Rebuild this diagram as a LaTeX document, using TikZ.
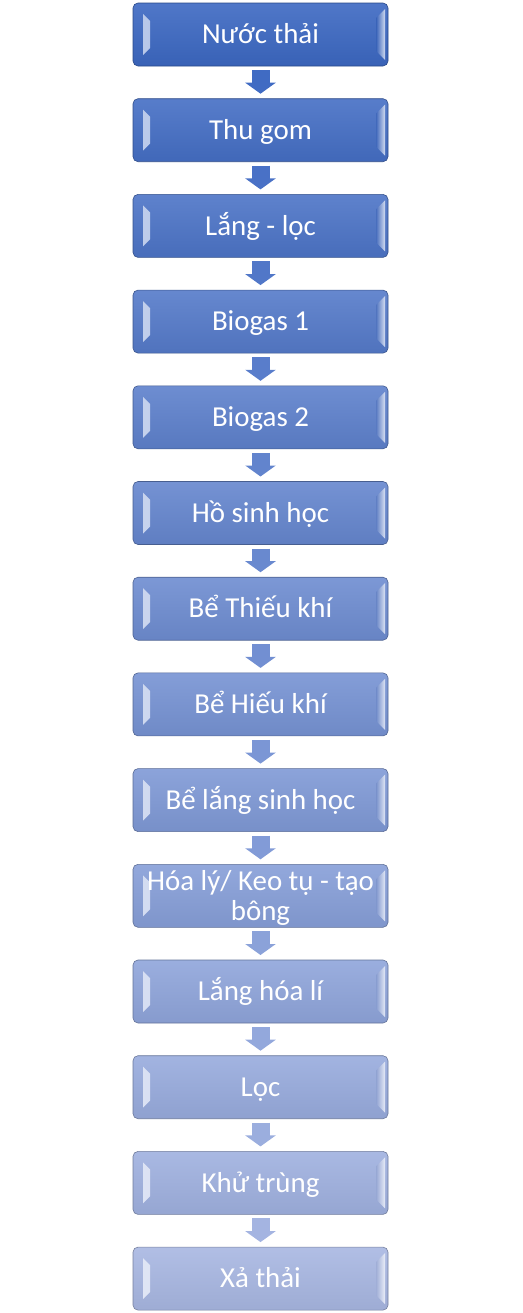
\documentclass[tikz,border=0pt]{standalone}
\usepackage{fontspec}
\setmainfont{Carlito}
\usetikzlibrary{arrows.meta,positioning}
\definecolor{boxtop}{RGB}{60, 104, 194}
\definecolor{boxlow}{RGB}{168, 183, 226}

\tikzset{
  stage/.style={/utils/exec={\colorlet{stagecol}{boxlow!#1!boxtop}},
    rectangle, rounded corners=5bp, minimum width=255bp, minimum height=63bp,
    inner sep=0pt, outer sep=0pt, align=center, text=white, text height=18.5bp, text depth=0bp,
    font=\fontsize{29}{30}\selectfont,
    top color=stagecol!90!white, bottom color=stagecol!94!black,
    draw=stagecol!70!black, line width=.6bp,
    path picture={
      \shade[sharp corners, left color=stagecol!35!white, right color=stagecol!65!white]
        ([shift={(10bp,-11bp)}]path picture bounding box.north west) -- ([shift={(17bp,-18bp)}]path picture bounding box.north west)
        -- ([shift={(17bp,18bp)}]path picture bounding box.south west) -- ([shift={(10bp,11bp)}]path picture bounding box.south west) -- cycle;
      \shade[sharp corners, left color=stagecol!95!black, right color=stagecol!25!white]
        ([shift={(-3bp,-6bp)}]path picture bounding box.north east) -- ([shift={(-12bp,-15bp)}]path picture bounding box.north east)
        -- ([shift={(-12bp,15bp)}]path picture bounding box.south east) -- ([shift={(-3bp,6bp)}]path picture bounding box.south east) -- cycle;
    }},
  flow/.style={draw=boxlow!#1!boxtop, line width=18bp, shorten <=4bp, shorten >=5bp,
    -{Triangle[length=11bp, width=30bp]}}
}

\begin{document}
\begin{tikzpicture}[node distance=32.7bp]
        \useasboundingbox (0,0) rectangle (523bp,-1313bp);
        % stages
        \node[stage=0]   (b1) at (260.5bp,-34.5bp) {Nước thải};
        \node[stage=8]   (b2)  [below=of b1]  {Thu gom};
        \node[stage=15]  (b3)  [below=of b2]  {Lắng - lọc};
        \node[stage=23]  (b4)  [below=of b3]  {Biogas 1};
        \node[stage=31]  (b5)  [below=of b4]  {Biogas 2};
        \node[stage=38]  (b6)  [below=of b5]  {Hồ sinh học};
        \node[stage=46]  (b7)  [below=of b6]  {Bể Thiếu khí};
        \node[stage=54]  (b8)  [below=of b7]  {Bể Hiếu khí};
        \node[stage=62]  (b9)  [below=of b8]  {Bể lắng sinh học};
        \node[stage=69, text height=48.5bp] (b10) [below=of b9] {Hóa lý/ Keo tụ - tạo\\bông};
        \node[stage=77]  (b11) [below=of b10] {Lắng hóa lí};
        \node[stage=85]  (b12) [below=of b11] {Lọc};
        \node[stage=92]  (b13) [below=of b12] {Khử trùng};
        \node[stage=100] (b14) [below=of b13] {Xả thải};
        % arrows
        \draw[flow=4]  (b1)  -- (b2);
        \draw[flow=12] (b2)  -- (b3);
        \draw[flow=19] (b3)  -- (b4);
        \draw[flow=27] (b4)  -- (b5);
        \draw[flow=35] (b5)  -- (b6);
        \draw[flow=42] (b6)  -- (b7);
        \draw[flow=50] (b7)  -- (b8);
        \draw[flow=58] (b8)  -- (b9);
        \draw[flow=65] (b9)  -- (b10);
        \draw[flow=73] (b10) -- (b11);
        \draw[flow=81] (b11) -- (b12);
        \draw[flow=88] (b12) -- (b13);
        \draw[flow=96] (b13) -- (b14);
\end{tikzpicture}
\end{document}
